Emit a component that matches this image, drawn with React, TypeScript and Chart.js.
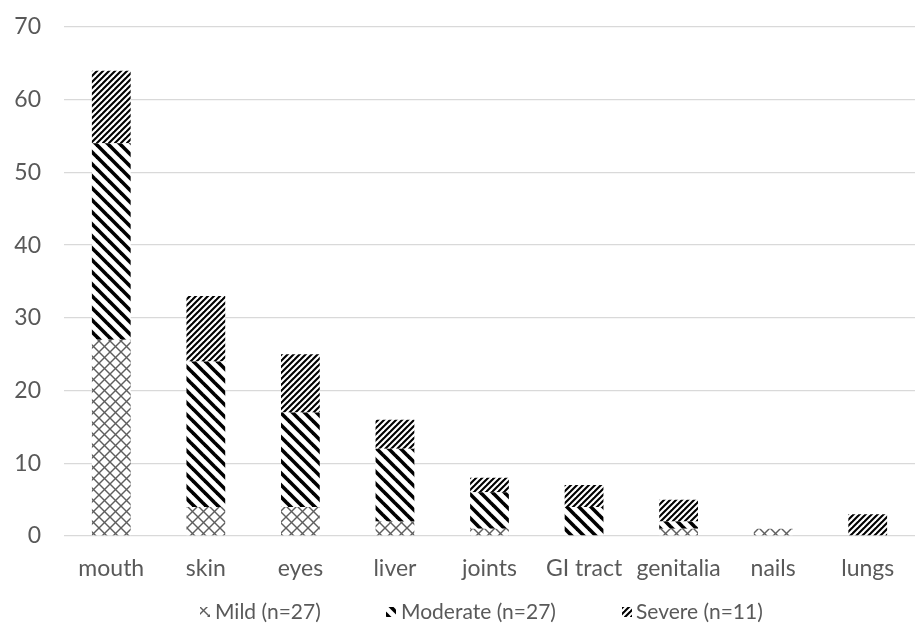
import React, { useEffect, useRef } from "react";
import { Chart, registerables } from "chart.js";

Chart.register(...registerables);

const categories = ["mouth", "skin", "eyes", "liver", "joints", "GI tract", "genitalia", "nails", "lungs"];
const mildValues = [27, 4, 4, 2, 1, 0, 1, 1, 0];
const moderateValues = [27, 20, 13, 10, 5, 4, 1, 0, 0];
const severeValues = [10, 9, 8, 4, 2, 3, 3, 0, 3];
const seriesLabels = ["Mild (n=27)", "Moderate (n=27)", "Severe (n=11)"];
const yMin = 0;
const yMax = 70;
const yStep = 10;

const FONT = "Lato, 'Open Sans', sans-serif";
const TEXT_COLOR = "#595959";

function makeTile(size: number, draw: (c: CanvasRenderingContext2D, s: number) => void): CanvasPattern {
  const cv = document.createElement("canvas");
  cv.width = size;
  cv.height = size;
  const c = cv.getContext("2d")!;
  c.fillStyle = "#ffffff";
  c.fillRect(0, 0, size, size);
  draw(c, size);
  const ctx = document.createElement("canvas").getContext("2d")!;
  return ctx.createPattern(cv, "repeat")!;
}

function down(c: CanvasRenderingContext2D, s: number) {
  for (let k = -2; k <= 2; k++) {
    c.beginPath();
    c.moveTo(k * s - s, -s);
    c.lineTo(k * s + 2 * s, 2 * s);
    c.stroke();
  }
}

function up(c: CanvasRenderingContext2D, s: number) {
  for (let k = -2; k <= 2; k++) {
    c.beginPath();
    c.moveTo(k * s + 2 * s, -s);
    c.lineTo(k * s - s, 2 * s);
    c.stroke();
  }
}

function crossPattern() {
  return makeTile(11, (c, s) => {
    c.strokeStyle = "#5e5e5e";
    c.lineWidth = 1.4;
    down(c, s);
    up(c, s);
  });
}

function backslashPattern() {
  return makeTile(12, (c, s) => {
    c.strokeStyle = "#000000";
    c.lineWidth = 3.6;
    down(c, s);
  });
}

function slashPattern() {
  return makeTile(6, (c, s) => {
    c.strokeStyle = "#000000";
    c.lineWidth = 2.1;
    up(c, s);
  });
}

export default function App() {
  const canvasRef = useRef<HTMLCanvasElement | null>(null);

  useEffect(() => {
    document.body.style.margin = "0";
    const canvas = canvasRef.current;
    if (!canvas) return;
    const patterns = [crossPattern(), backslashPattern(), slashPattern()];
    const values = [mildValues, moderateValues, severeValues];

    const legendPlugin = {
      id: "customLegend",
      afterDraw(chart: any) {
        const ctx = chart.ctx as CanvasRenderingContext2D;
        const y = 612;
        const iconX = [200, 386, 622];
        const textX = [215, 401, 636];
        ctx.save();
        ctx.font = `21px ${FONT}`;
        ctx.textBaseline = "middle";
        ctx.textAlign = "left";
        seriesLabels.forEach((label, i) => {
          ctx.fillStyle = patterns[i];
          ctx.fillRect(iconX[i], y - 5, 10, 10);
          ctx.fillStyle = TEXT_COLOR;
          ctx.fillText(label, textX[i], y);
        });
        ctx.restore();
      },
    };

    const chart = new Chart(canvas, {
      type: "bar",
      data: {
        labels: categories,
        datasets: seriesLabels.map((label, i) => ({
          label,
          data: values[i],
          backgroundColor: patterns[i] as any,
          borderWidth: 0,
          barPercentage: 0.41,
          categoryPercentage: 1,
        })),
      },
      options: {
        animation: false,
        responsive: true,
        maintainAspectRatio: false,
        layout: { padding: { top: 27, left: 0, right: 0, bottom: 0 } },
        plugins: {
          legend: { display: false },
          tooltip: { enabled: false },
        },
        scales: {
          x: {
            stacked: true,
            grid: { display: false, drawTicks: false },
            border: { display: false },
            ticks: {
              font: { family: FONT, size: 23 },
              color: TEXT_COLOR,
              padding: 19,
              maxRotation: 0,
              autoSkip: false,
            },
            afterFit: (s: any) => {
              s.height = 92;
            },
          },
          y: {
            stacked: true,
            min: yMin,
            max: yMax,
            ticks: {
              stepSize: yStep,
              font: { family: FONT, size: 23 },
              color: TEXT_COLOR,
              padding: 23,
            },
            grid: { color: "#d9d9d9", lineWidth: 1.3, drawTicks: false },
            border: { display: false },
            afterFit: (s: any) => {
              s.width = 64;
              s.paddingTop = 0;
              s.paddingBottom = 0;
            },
          },
        },
      },
      plugins: [legendPlugin],
    });

    return () => chart.destroy();
  }, []);

  return (
    <div style={{ position: "relative", width: 915, height: 628, background: "#fff" }}>
      <canvas ref={canvasRef} />
    </div>
  );
}
